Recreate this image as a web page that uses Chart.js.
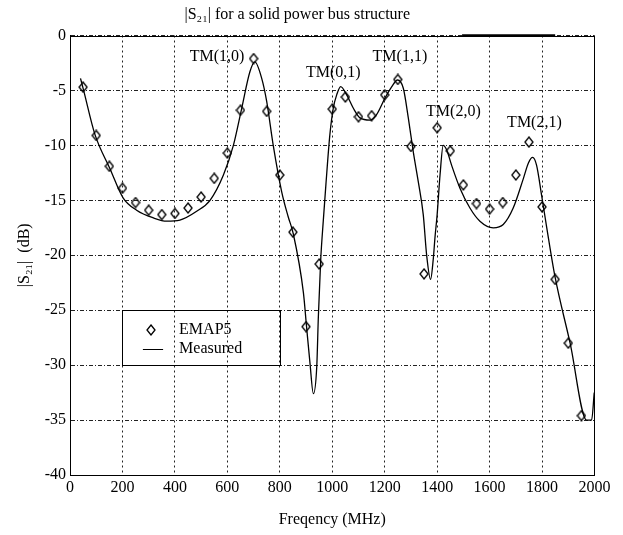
<!DOCTYPE html>
<html><head><meta charset="utf-8">
<script src="https://cdn.jsdelivr.net/npm/chart.js@4/dist/chart.umd.min.js"></script>
<style>html,body{margin:0;padding:0;background:#fff}#wrap{width:623px;height:535px}</style>
</head><body><div id="wrap"><canvas id="c" width="623" height="535"></canvas></div>
<script>
// ---- data ----
const measuredFreq = [40,51,95,152,203,254,318,369,419,483,534,585,623,655,686,705,731,750,775,807,832,851,890,902,915,928,941,947,956,966,976,991,1004,1017,1032,1055,1080,1106,1144,1169,1201,1227,1249,1271,1290,1309,1328,1347,1360,1375,1385,1392,1400,1411,1423,1436,1455,1487,1525,1563,1614,1652,1690,1729,1748,1764,1779,1798,1818,1849,1907,1970,1989,1999];
const measuredDb   = [-3.9,-4.9,-9.0,-12.1,-14.8,-15.9,-16.6,-16.9,-16.8,-16.0,-15.0,-12.7,-10.0,-6.6,-3.3,-2.4,-3.9,-6.0,-10.0,-14.2,-16.5,-18.0,-23.4,-26.5,-29.8,-32.6,-30.1,-25.6,-20.4,-16.8,-13.5,-9.0,-6.6,-5.4,-4.65,-5.4,-6.6,-7.5,-7.7,-7.2,-5.7,-4.65,-4.05,-4.8,-7.5,-10.6,-13.3,-16.3,-20.0,-22.2,-20.4,-18.3,-16.3,-12.7,-10.0,-10.4,-11.8,-13.9,-15.7,-16.9,-17.5,-17.2,-15.7,-13.0,-11.6,-11.1,-11.8,-14.5,-17.5,-21.9,-28.0,-35.0,-35.0,-32.5];
const emapFreq = [50,100,150,200,250,300,350,400,450,500,550,600,650,700,750,800,850,900,950,1000,1050,1100,1150,1200,1250,1300,1350,1400,1450,1500,1550,1600,1650,1700,1750,1800,1850,1900,1950];
const emapDb   = [-4.7,-9.1,-11.9,-13.9,-15.2,-15.9,-16.3,-16.2,-15.7,-14.7,-13.0,-10.7,-6.8,-2.1,-6.9,-12.7,-17.9,-26.5,-20.8,-6.7,-5.6,-7.4,-7.3,-5.4,-4.0,-10.1,-21.7,-8.4,-10.5,-13.6,-15.3,-15.8,-15.2,-12.7,-9.7,-15.6,-22.2,-28.0,-34.6];
const xTickValues = [0,200,400,600,800,1000,1200,1400,1600,1800,2000];
const yTickValues = [0,-5,-10,-15,-20,-25,-30,-35,-40];
const modeLabels   = ['TM(1,0)','TM(0,1)','TM(1,1)','TM(2,0)','TM(2,1)'];
const modeLabelFreq = [561,1004,1258,1462,1771];
const modeLabelDb   = [-1.9,-3.4,-1.9,-6.9,-7.9];
const topMarkFreq = [1495,1850];
const topMarkDb   = [0,0];
const seriesNames = ['EMAP5','Measured'];

const FONT = '"Liberation Serif", "Times New Roman", serif';

// hollow diamond marker (slightly taller than wide)
function makeDiamond(){
  const c = document.createElement('canvas');
  c.width = 10; c.height = 12;
  const g = c.getContext('2d');
  g.strokeStyle = '#000'; g.lineWidth = 1.3;
  g.beginPath();
  g.moveTo(5,1); g.lineTo(9,6); g.lineTo(5,11); g.lineTo(1,6); g.closePath();
  g.stroke();
  return c;
}
const diamond = makeDiamond();

const framePlugin = {
  id: 'frame',
  afterDatasetsDraw(chart){
    const {ctx, chartArea: a, scales: {x, y}} = chart;
    ctx.save();
    ctx.strokeStyle = '#000'; ctx.lineWidth = 1;
    ctx.strokeRect(Math.round(a.left)+0.5, Math.round(a.top)+0.5, Math.round(a.right-a.left)-1, Math.round(a.bottom-a.top)-1);
    // legend box (sits on the 200..800 / -25..-30 grid cell)
    const lx1 = Math.round(x.getPixelForValue(200))+0.5, lx2 = Math.round(x.getPixelForValue(800))+0.5;
    const ly1 = Math.round(y.getPixelForValue(-25))+0.5, ly2 = Math.round(y.getPixelForValue(-30))+0.5;
    ctx.strokeRect(lx1, ly1, lx2-lx1, ly2-ly1);
    const r1 = y.getPixelForValue(-26.8), r2 = y.getPixelForValue(-28.5);
    ctx.drawImage(diamond, Math.round(x.getPixelForValue(309)-5), Math.round(r1-6));
    ctx.beginPath();
    ctx.moveTo(x.getPixelForValue(278), Math.round(r2)+0.5);
    ctx.lineTo(x.getPixelForValue(355), Math.round(r2)+0.5);
    ctx.stroke();
    ctx.fillStyle = '#000';
    ctx.font = '16px ' + FONT;
    ctx.textBaseline = 'middle'; ctx.textAlign = 'left';
    ctx.fillText(seriesNames[0], x.getPixelForValue(416), r1);
    ctx.fillText(seriesNames[1], x.getPixelForValue(416), r2);
    // mode annotations
    ctx.textAlign = 'center';
    modeLabels.forEach((t,i)=>{
      ctx.fillText(t, x.getPixelForValue(modeLabelFreq[i]), y.getPixelForValue(modeLabelDb[i]));
    });
    ctx.restore();
  }
};

new Chart(document.getElementById('c'), {
  type: 'line',
  data: {
    datasets: [
      {
        label: seriesNames[1],
        data: measuredFreq.map((f,i)=>({x:f, y:measuredDb[i]})),
        borderColor: '#000', borderWidth: 1.3,
        pointRadius: 0, cubicInterpolationMode: 'monotone', fill: false
      },
      {
        label: seriesNames[0],
        data: emapFreq.map((f,i)=>({x:f, y:emapDb[i]})),
        showLine: false, pointStyle: diamond, pointRadius: 5,
        borderColor: '#000', backgroundColor: 'rgba(0,0,0,0)'
      },
      {
        label: 'frame mark',
        data: topMarkFreq.map((f,i)=>({x:f, y:topMarkDb[i]})),
        borderColor: '#000', borderWidth: 2.5, pointRadius: 0, clip: false
      }
    ]
  },
  options: {
    responsive: false, animation: false, devicePixelRatio: 1,
    layout: { padding: { left: 0, right: 28.5, top: 0, bottom: 0 } },
    plugins: {
      legend: { display: false },
      tooltip: { enabled: false },
      title: {
        display: true, text: '|S₂₁| for a solid power bus structure',
        color: '#000', font: { family: FONT, size: 16, weight: 'normal', lineHeight: 1.2 },
        padding: { top: 5.5, bottom: 10.8 }
      }
    },
    scales: {
      x: {
        type: 'linear', min: 0, max: 2000,
        afterBuildTicks(s){ s.ticks = xTickValues.map(v=>({value:v})); },
        afterFit(s){ s.height = 60; },
        ticks: { color: '#000', padding: 3, maxRotation: 0, font: { family: FONT, size: 16 },
          callback: v => String(v) },
        grid: { color: '#222', lineWidth: 1, drawTicks: false },
        border: { display: true, color: '#000', width: 1, dash: [2,3] },
        title: { display: true, text: 'Freqency (MHz)', color: '#000',
          font: { family: FONT, size: 16, lineHeight: 1.2 }, padding: { top: 0, bottom: 5.5 } }
      },
      y: {
        type: 'linear', min: -40, max: 0,
        afterBuildTicks(s){ s.ticks = yTickValues.map(v=>({value:v})); },
        afterFit(s){ s.width = 70; },
        ticks: { color: '#000', padding: 4, font: { family: FONT, size: 16 },
          callback: v => String(v) },
        grid: { color: '#222', lineWidth: 1, drawTicks: false },
        border: { display: true, color: '#000', width: 1, dash: [4,2,1,2] },
        title: { display: true, text: '|S₂₁|  (dB)', color: '#000',
          font: { family: FONT, size: 16, lineHeight: 1.2 }, padding: { top: 15.5, bottom: 0 } }
      }
    }
  },
  plugins: [framePlugin]
});
</script></body></html>
